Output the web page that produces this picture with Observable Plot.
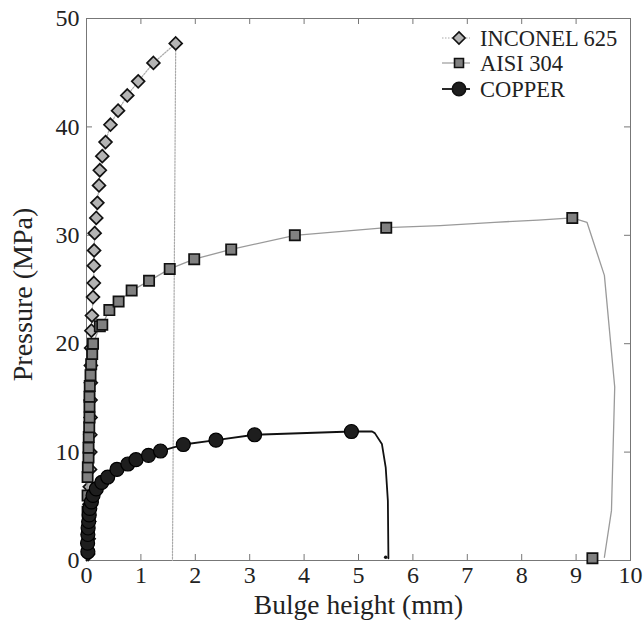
<!DOCTYPE html>
<html>
<head>
<meta charset="utf-8">
<script src="https://cdn.jsdelivr.net/npm/d3@7"></script>
<script src="https://cdn.jsdelivr.net/npm/@observablehq/plot@0.6"></script>
<style>
  html, body { margin: 0; padding: 0; background: #fff; }
</style>
</head>
<body>
<div id="chart"></div>
<script>
// ---- Data ----
const seriesNames = ["INCONEL 625", "AISI 304", "COPPER"];
const xTicks = [0, 1, 2, 3, 4, 5, 6, 7, 8, 9, 10];
const yTicks = [0, 10, 20, 30, 40, 50];

// INCONEL 625: curve and diamond markers
const inconelLineX = [0, 0.02, 0.035, 0.05, 0.065, 0.09, 0.1, 0.12, 0.135, 0.135, 0.14, 0.15, 0.18, 0.2, 0.23, 0.245, 0.29, 0.35, 0.44, 0.58, 0.75, 0.95, 1.23, 1.64, 1.58];
const inconelLineY = [0, 2, 5.2, 11.6, 18, 21.2, 22.6, 24.3, 25.6, 27.2, 28.6, 30.2, 31.6, 33.0, 34.6, 36.0, 37.3, 38.6, 40.2, 41.5, 42.9, 44.2, 45.9, 47.7, 0];
const inconelMarkX = [0.03, 0.04, 0.05, 0.055, 0.06, 0.065, 0.07, 0.07, 0.075, 0.075, 0.08, 0.08, 0.085, 0.09, 0.1, 0.12, 0.135, 0.135, 0.14, 0.15, 0.18, 0.2, 0.23, 0.245, 0.29, 0.35, 0.44, 0.58, 0.75, 0.95, 1.23, 1.64];
const inconelMarkY = [0.6, 2, 3.6, 5.2, 6.8, 8.4, 10, 11.6, 13.2, 14.8, 16.4, 18, 19.6, 21.2, 22.6, 24.3, 25.6, 27.2, 28.6, 30.2, 31.6, 33.0, 34.6, 36.0, 37.3, 38.6, 40.2, 41.5, 42.9, 44.2, 45.9, 47.7];

// AISI 304: curve and square markers
const aisiLineX = [0, 0.01, 0.012, 0.025, 0.037, 0.037, 0.042, 0.05, 0.055, 0.055, 0.055, 0.06, 0.074, 0.086, 0.105, 0.12, 0.245, 0.29, 0.42, 0.59, 0.83, 1.15, 1.53, 1.98, 2.66, 3.83, 5.51, 6.5, 7.5, 8.3, 8.93, 9.2, 9.52, 9.71, 9.65, 9.52];
const aisiLineY = [0, 2, 7.7, 8.6, 9.5, 10.4, 11.4, 12.3, 13.2, 14.2, 15.1, 16.1, 17.1, 18.1, 19.05, 20.0, 21.6, 21.75, 23.1, 23.9, 24.9, 25.8, 26.9, 27.8, 28.7, 30.0, 30.7, 30.9, 31.2, 31.4, 31.6, 31.2, 26.3, 16.0, 4.6, 0.3];
const aisiMarkX = [0.02, 0.02, 0.02, 0.02, 0.02, 0.025, 0.037, 0.037, 0.042, 0.05, 0.055, 0.055, 0.055, 0.06, 0.074, 0.086, 0.105, 0.12, 0.245, 0.29, 0.42, 0.59, 0.83, 1.15, 1.53, 1.98, 2.66, 3.83, 5.51, 8.93, 9.3];
const aisiMarkY = [1.5, 3, 4.5, 6.0, 7.7, 8.6, 9.5, 10.4, 11.4, 12.3, 13.2, 14.2, 15.1, 16.1, 17.1, 18.1, 19.05, 20.0, 21.6, 21.75, 23.1, 23.9, 24.9, 25.8, 26.9, 27.8, 28.7, 30.0, 30.7, 31.6, 0.2];

// COPPER: curve and circle markers
const copperMarkX = [0.025, 0.02, 0.025, 0.03, 0.04, 0.05, 0.06, 0.09, 0.12, 0.18, 0.28, 0.39, 0.56, 0.76, 0.91, 1.14, 1.36, 1.78, 2.38, 3.09, 4.87];
const copperMarkY = [0.8, 1.6, 2.4, 3.0, 3.6, 4.2, 4.8, 5.4, 6.0, 6.6, 7.2, 7.7, 8.4, 8.9, 9.3, 9.7, 10.1, 10.7, 11.1, 11.6, 11.9];
const copperLineX = [0, ...copperMarkX, 5.25, 5.3, 5.43, 5.5, 5.54, 5.55];
const copperLineY = [0, ...copperMarkY, 11.9, 11.75, 10.75, 8.6, 5.5, 0.2];
const copperEndX = [5.5];
const copperEndY = [0.3];

const toRows = (xs, ys) => xs.map((x, i) => ({x, y: ys[i]}));

const FONT = "'Liberation Serif', 'Times New Roman', Times, serif";

const styles = [
  {name: seriesNames[0], symbol: d3.symbolDiamond2, size: 95, fill: "#b4b4b4", line: "#aaaaaa", dash: "1.5,1.5", lw: 1.2},
  {name: seriesNames[1], symbol: d3.symbolSquare, size: 80, fill: "#808080", line: "#9a9a9a", dash: null, lw: 1.2},
  {name: seriesNames[2], symbol: d3.symbolCircle, size: 140, fill: "#1e1e1e", line: "#111111", dash: null, lw: 1.8}
];

function legendMark(index, scales, values, dimensions) {
  const g = d3.create("svg:g");
  const right = dimensions.width - dimensions.marginRight;
  const top = dimensions.marginTop;
  const rowsY = [20, 45, 71];
  styles.forEach((s, i) => {
    const cy = top + rowsY[i];
    const cx = right - 171;
    g.append("line")
      .attr("x1", cx - 17).attr("x2", cx + 11)
      .attr("y1", cy).attr("y2", cy)
      .attr("stroke", s.line).attr("stroke-width", s.lw)
      .attr("stroke-dasharray", s.dash);
    g.append("path")
      .attr("transform", `translate(${cx},${cy})`)
      .attr("d", d3.symbol().type(s.symbol).size(s.size)())
      .attr("fill", s.fill).attr("stroke", "#111").attr("stroke-width", 1.6);
    g.append("text")
      .attr("x", right - 150).attr("y", cy)
      .attr("dy", "0.35em")
      .attr("text-anchor", "start")
      .attr("font-family", FONT).attr("font-size", 22.5)
      .attr("fill", "#222")
      .text(s.name);
  });
  return g.node();
}

const frameColor = "#777";

const chart = Plot.plot({
  width: 644,
  height: 629,
  marginLeft: 86,
  marginRight: 14,
  marginTop: 18,
  marginBottom: 69,
  x: {domain: [0, 10]},
  y: {domain: [0, 50]},
  style: {fontFamily: FONT, fontSize: "24px", color: "#222", background: "#fff", overflow: "visible"},
  marks: [
    Plot.axisX(xTicks, {tickSize: 0, tickPadding: 5, label: null, fontSize: 24}),
    Plot.axisY(yTicks, {tickSize: 0, tickPadding: 7, label: null, fontSize: 24}),
    Plot.frame({stroke: frameColor, strokeWidth: 1}),
    // inward ticks on all four sides
    Plot.ruleX(xTicks, {x: d => d, y1: 0, y2: 0, insetBottom: 6, stroke: frameColor}),
    Plot.ruleX(xTicks, {x: d => d, y1: 50, y2: 50, insetTop: 6, stroke: frameColor}),
    Plot.ruleY(yTicks, {y: d => d, x1: 0, x2: 0, insetLeft: 6, stroke: frameColor}),
    Plot.ruleY(yTicks, {y: d => d, x1: 10, x2: 10, insetRight: 6, stroke: frameColor}),
    // INCONEL 625
    Plot.line(toRows(inconelLineX, inconelLineY), {x: "x", y: "y", stroke: styles[0].line, strokeWidth: 1.2, strokeDasharray: "1.5,1.5"}),
    Plot.dot(toRows(inconelMarkX, inconelMarkY), {x: "x", y: "y", symbol: "diamond2", r: 5.8, fill: styles[0].fill, stroke: "#111", strokeWidth: 1.7}),
    // AISI 304
    Plot.line(toRows(aisiLineX, aisiLineY), {x: "x", y: "y", stroke: styles[1].line, strokeWidth: 1.3}),
    Plot.dot(toRows(aisiMarkX, aisiMarkY), {x: "x", y: "y", symbol: "square", r: 5.8, fill: styles[1].fill, stroke: "#111", strokeWidth: 1.7}),
    // COPPER
    Plot.line(toRows(copperLineX, copperLineY), {x: "x", y: "y", stroke: styles[2].line, strokeWidth: 1.8}),
    Plot.dot(toRows(copperMarkX, copperMarkY), {x: "x", y: "y", symbol: "circle", r: 7, fill: styles[2].fill, stroke: "#000", strokeWidth: 1.2}),
    Plot.dot(toRows(copperEndX, copperEndY), {x: "x", y: "y", r: 1.8, fill: "#111"}),
    // axis titles
    Plot.text(["Bulge height (mm)"], {frameAnchor: "bottom", dy: 53, fontSize: 27.5, fill: "#222"}),
    Plot.text(["Pressure (MPa)"], {frameAnchor: "left", textAnchor: "middle", dx: -63, dy: 5, rotate: -90, fontSize: 28, fill: "#222"}),
    legendMark
  ]
});

document.getElementById("chart").appendChild(chart);
</script>
</body>
</html>
